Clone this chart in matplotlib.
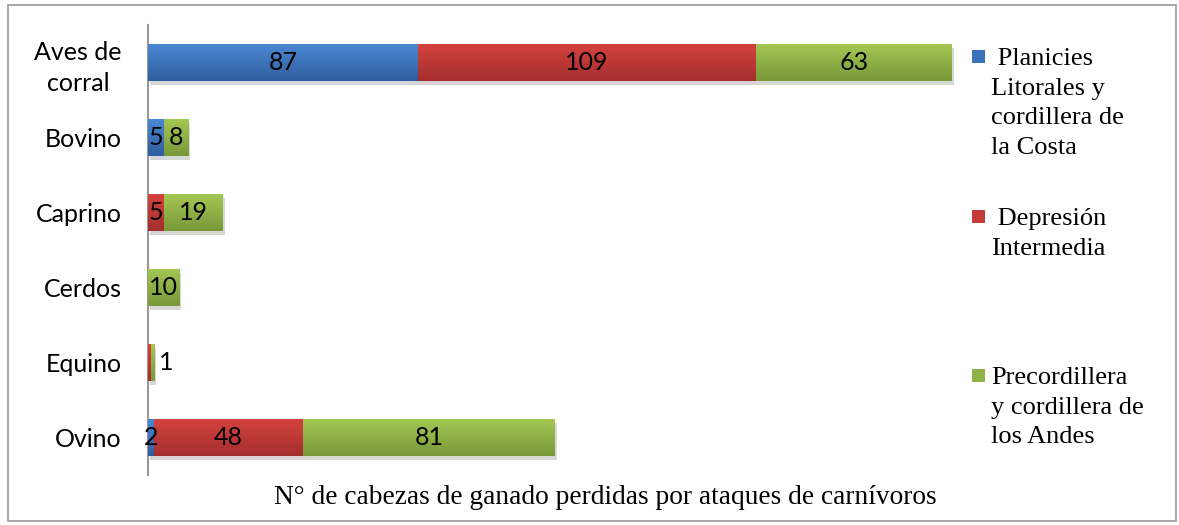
import matplotlib.pyplot as plt
import matplotlib.patheffects as pe
from matplotlib.patches import Rectangle
import numpy as np

categories = ["Aves de\ncorral", "Bovino", "Caprino", "Cerdos", "Equino", "Ovino"]
series_names = [" Planicies\nLitorales y\ncordillera de\nla Costa",
                " Depresión\nIntermedia",
                "Precordillera\ny cordillera de\nlos Andes"]
planicies = [87, 5, 0, 0, 0, 2]
depresion = [109, 0, 5, 0, 1, 48]
precordillera = [63, 8, 19, 10, 1, 81]
# labels hidden in the original chart (category, series)
hidden_labels = [(4, 1)]

series = [planicies, depresion, precordillera]
top_colors = ["#4b87d3", "#d4423f", "#a3c752"]
bottom_colors = ["#2f5e9e", "#a32f2d", "#79983a"]
mid_colors = ["#3b70ba", "#c33a38", "#8db345"]

W, H = 1179, 525
fig = plt.figure(figsize=(W / 100, H / 100), dpi=100)
ax = fig.add_axes([148 / W, 1 - 475 / H, (955 - 148) / W, (475 - 25) / H])

y = np.arange(len(categories))
left = np.zeros(len(categories))
for si, vals in enumerate(series):
    vals = np.array(vals, dtype=float)
    bars = ax.barh(y, vals, left=left, height=0.49, color=bottom_colors[si],
                   linewidth=0, zorder=2,
                   path_effects=[pe.SimplePatchShadow(offset=(1.5, -3), alpha=0.18), pe.Normal()])
    c1 = np.array(plt.matplotlib.colors.to_rgb(top_colors[si]))
    c2 = np.array(plt.matplotlib.colors.to_rgb(bottom_colors[si]))
    t = np.linspace(0, 1, 64)[:, None]
    grad = (c1 * (1 - t) + c2 * t)[:, None, :]
    for b in bars:
        if b.get_width() <= 0:
            continue
        x0, y0 = b.get_x(), b.get_y()
        im = ax.imshow(grad, extent=(x0, x0 + b.get_width(), y0 + b.get_height(), y0),
                       aspect="auto", zorder=3, interpolation="bilinear")
        im.set_clip_path(b)
    for ci, v in enumerate(vals):
        if v <= 0 or (ci, si) in hidden_labels:
            continue
        if v < 2:
            ax.text(left[ci] + v + 1.5, ci, f"{int(v)}", ha="left", va="center",
                    fontsize=18, family="Lato", zorder=5)
        else:
            ax.text(left[ci] + v / 2, ci, f"{int(v)}", ha="center", va="center",
                    fontsize=18, family="Lato", zorder=5)
    left += vals

ax.set_xlim(0, 260)
ax.set_ylim(len(categories) - 0.5, -0.5)
ax.set_yticks(y)
ax.set_yticklabels(categories, fontsize=18, family="Lato", multialignment="center",
                   linespacing=1.37)
ax.tick_params(axis="y", length=0, pad=19)
ax.set_xticks([])
for s in ["top", "right", "bottom"]:
    ax.spines[s].set_visible(False)
ax.spines["left"].set_color("#999999")
ax.spines["left"].set_linewidth(1.5)

# legend
leg_y = [57, 217, 376]
for si, name in enumerate(series_names):
    fig.add_artist(Rectangle((972 / W, 1 - (leg_y[si] + 6) / H), 13 / W, 13 / H,
                             transform=fig.transFigure, color=mid_colors[si],
                             linewidth=0))
    fig.text(991 / W, 1 - (leg_y[si] - 9) / H, name, ha="left", va="top",
             fontsize=19, family="Liberation Serif", linespacing=1.45)

fig.text(605 / W, 1 - 497 / H, "N° de cabezas de ganado perdidas por ataques de carnívoros",
         ha="center", va="center", fontsize=19.7, family="Liberation Serif")

fig.add_artist(Rectangle((8 / W, 1 - 521 / H), (1176 - 8) / W, (521 - 5) / H,
                         transform=fig.transFigure, fill=False, edgecolor="#999999",
                         linewidth=1.2))

fig.savefig("out.png", dpi=100)
